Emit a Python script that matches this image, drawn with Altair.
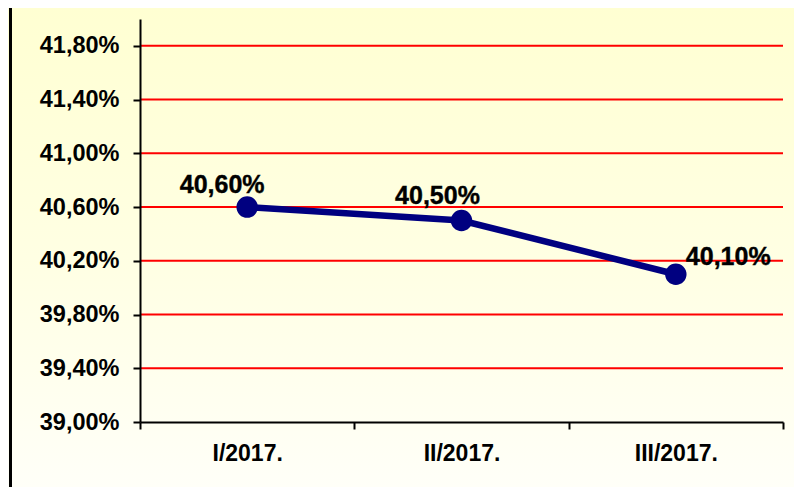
import altair as alt
import pandas as pd

# ---- data ----
quarters = ["I/2017.", "II/2017.", "III/2017."]
values = [40.60, 40.50, 40.10]
y_ticks = [39.0, 39.4, 39.8, 40.2, 40.6, 41.0, 41.4, 41.8]
grid_values = y_ticks[1:]

df = pd.DataFrame({"q": quarters, "v": values})
grid_df = pd.DataFrame({"v": grid_values})
bg_df = pd.DataFrame({"a": [0]})

W, H = 643, 403
PL, PT, PR, PB = 132, 11, 11, 65
FONT = "Liberation Sans"
NAVY = "#000080"

label_expr = "replace(format(datum.value, '.2f'), '.', ',') + '%'"

x_enc = alt.X(
    "q:N",
    sort=quarters,
    scale=alt.Scale(type="band", paddingInner=0, paddingOuter=0),
    axis=alt.Axis(
        title=None, labelAngle=0, tickBand="extent", grid=False,
        domainColor="black", domainWidth=2, tickColor="black", tickWidth=2,
        tickSize=7, labelFont=FONT, labelFontWeight="bold", labelFontSize=23,
        labelColor="black", labelPadding=13, zindex=1,
    ),
)
y_enc = alt.Y(
    "v:Q",
    scale=alt.Scale(domain=[39, 42], nice=False, zero=False),
    axis=alt.Axis(
        values=y_ticks, labelExpr=label_expr, title=None, grid=False,
        domainColor="black", domainWidth=2, tickColor="black", tickWidth=2,
        tickSize=7, labelFont=FONT, labelFontWeight="bold", labelFontSize=23.5,
        labelColor="black", labelPadding=14, zindex=1,
    ),
)

gradient = alt.Gradient(
    gradient="linear",
    stops=[
        alt.GradientStop(color="#FFFFD2", offset=0),
        alt.GradientStop(color="#FFFFE4", offset=0.55),
        alt.GradientStop(color="#FFFFF8", offset=1),
    ],
    x1=0, x2=0, y1=0, y2=1,
)

bg = alt.Chart(bg_df).mark_rect(fill=gradient).encode(
    x=alt.value(-PL), x2=alt.value(W + PR),
    y=alt.value(-PT), y2=alt.value(H + PB),
)
border = alt.Chart(bg_df).mark_rule(color="black", strokeWidth=3).encode(
    x=alt.value(-PL + 2.5), y=alt.value(-PT), y2=alt.value(H + PB),
)

grid = alt.Chart(grid_df).mark_rule(color="#FF0000", strokeWidth=2).encode(y=y_enc)

line = alt.Chart(df).mark_line(color=NAVY, strokeWidth=6.5).encode(x=x_enc, y=y_enc)
points = alt.Chart(df).mark_point(filled=True, color=NAVY, size=460, opacity=1).encode(x=x_enc, y=y_enc)

base_text = alt.Chart(df).transform_calculate(
    lab="replace(format(datum.v, '.2f'), '.', ',') + '%'"
)
t_style = dict(font=FONT, fontWeight="bold", fontSize=25, color="black",
               baseline="alphabetic", stroke="black", strokeWidth=0.4)
t1 = base_text.transform_filter(alt.datum.q == quarters[0]).mark_text(
    align="center", dx=-25, dy=-14, **t_style).encode(x=x_enc, y=y_enc, text="lab:N")
t2 = base_text.transform_filter(alt.datum.q == quarters[1]).mark_text(
    align="center", dx=-24, dy=-17, **t_style).encode(x=x_enc, y=y_enc, text="lab:N")
t3 = base_text.transform_filter(alt.datum.q == quarters[2]).mark_text(
    align="left", dx=10, dy=-9, **t_style).encode(x=x_enc, y=y_enc, text="lab:N")

chart = alt.layer(bg, border, grid, line, points, t1, t2, t3).properties(
    width=W, height=H,
    autosize=alt.AutoSizeParams(type="none"),
    padding={"left": PL, "top": PT, "right": PR, "bottom": PB},
).configure_view(stroke="white", strokeWidth=2).configure(background="#FFFFFF")

chart.save("out.html", embed_options={"renderer": "svg", "actions": False})
